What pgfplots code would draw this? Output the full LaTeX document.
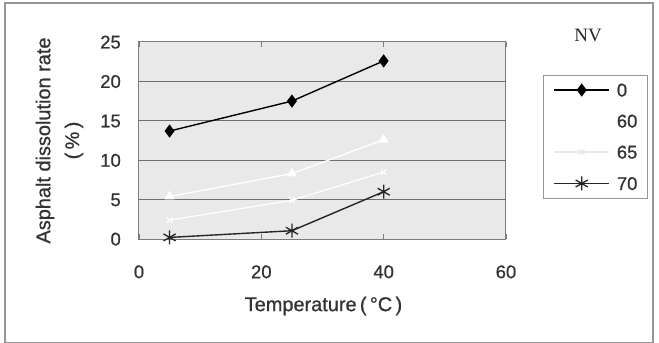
\documentclass[border=0pt]{standalone}
\usepackage{fontspec}
\setmainfont{Liberation Sans}[FakeBold=0.8]
\newfontfamily\seriffont{Liberation Serif}
\usepackage{pgfplots}
\pgfplotsset{compat=1.18}
\definecolor{plotbg}{RGB}{233,233,233}
\definecolor{gridc}{RGB}{110,110,110}
\definecolor{axisc}{RGB}{125,125,125}
\definecolor{framec}{RGB}{150,150,150}
\begin{document}
\begin{tikzpicture}
\useasboundingbox (-139bp,-104bp) rectangle (520bp,239bp);
\draw[framec, line width=1.2bp] (-134bp,-103.5bp) rectangle (514bp,236bp);
\begin{axis}[
  at={(0,0)}, anchor=south west,
  scale only axis, width=367bp, height=197bp,
  xmin=0, xmax=60, ymin=0, ymax=25,
  xtick={0,20,40,60}, ytick={0,5,10,15,20,25},
  /pgf/number format/assume math mode=true,
  ymajorgrids,
  grid style={draw=gridc, line width=1bp},
  axis line style={draw=axisc, line width=1bp},
  axis background/.style={fill=plotbg},
  tick align=inside, major tick length=5bp,
  xtick style={draw=axisc, line width=0.8bp},
  ytick style={draw=none},
  ticklabel style={font=\fontsize{18.5}{18.5}\selectfont, text=black!80},
  xticklabel style={inner sep=0pt, text height=13bp, text depth=0pt, yshift=-26bp},
  yticklabel style={inner sep=0pt, text height=13bp, text depth=0pt, xshift=-18bp},
  xlabel={Temperature\,(\,°C\,)},
  ylabel={Asphalt dissolution rate\\(\,\%\,)},
  every axis x label/.style={at={(axis description cs:0.5027,-0.340)}, anchor=center, font=\fontsize{20}{24}\selectfont, text=black!80},
  every axis y label/.style={at={(axis description cs:-0.2166,0.5)}, rotate=90, anchor=center, align=center, font=\fontsize{20}{29}\selectfont, text=black!80},
  legend style={
    at={(rel axis cs:1.1008,0.8325)}, anchor=north west,
    draw=framec, line width=1bp, fill=white,
    inner xsep=10bp, inner ysep=8bp,
    font=\fontsize{18.5}{18.5}\selectfont, text=black!80,
    nodes={inner sep=0pt, text height=13bp, text depth=0pt},
    row sep=18bp, column sep=7bp,
  },
  legend cell align=left,
  legend image code/.code={\draw[mark repeat=2,mark phase=2,#1] plot coordinates {(0bp,0bp) (27.5bp,0bp) (55bp,0bp)};},
]
\addplot[black, line width=1.4bp, mark=diamond*, mark size=5.5bp, mark options={solid, fill=black}]
  coordinates {(5,13.7) (25,17.5) (40,22.6)};
\addlegendentry{0}
\addplot[white, line width=1.3bp, mark=triangle*, mark size=4.5bp, mark options={solid, fill=white}]
  coordinates {(5,5.4) (25,8.3) (40,12.6)};
\addlegendentry{60}
\addplot[white, line width=1.2bp, mark=x, mark size=4bp, legend image post style={draw=gray!18}]
  coordinates {(5,2.4) (25,4.9) (40,8.5)};
\addlegendentry{65}
\addplot[black!85, line width=1.4bp, mark=asterisk, mark size=7bp, mark options={solid, line width=1.3bp}]
  coordinates {(5,0.2) (25,1.05) (40,6.0)};
\addlegendentry{70}
\end{axis}
\node[font=\seriffont\fontsize{19}{19}\selectfont, text=black!85] at (449bp,204bp) {NV};
\end{tikzpicture}
\end{document}
